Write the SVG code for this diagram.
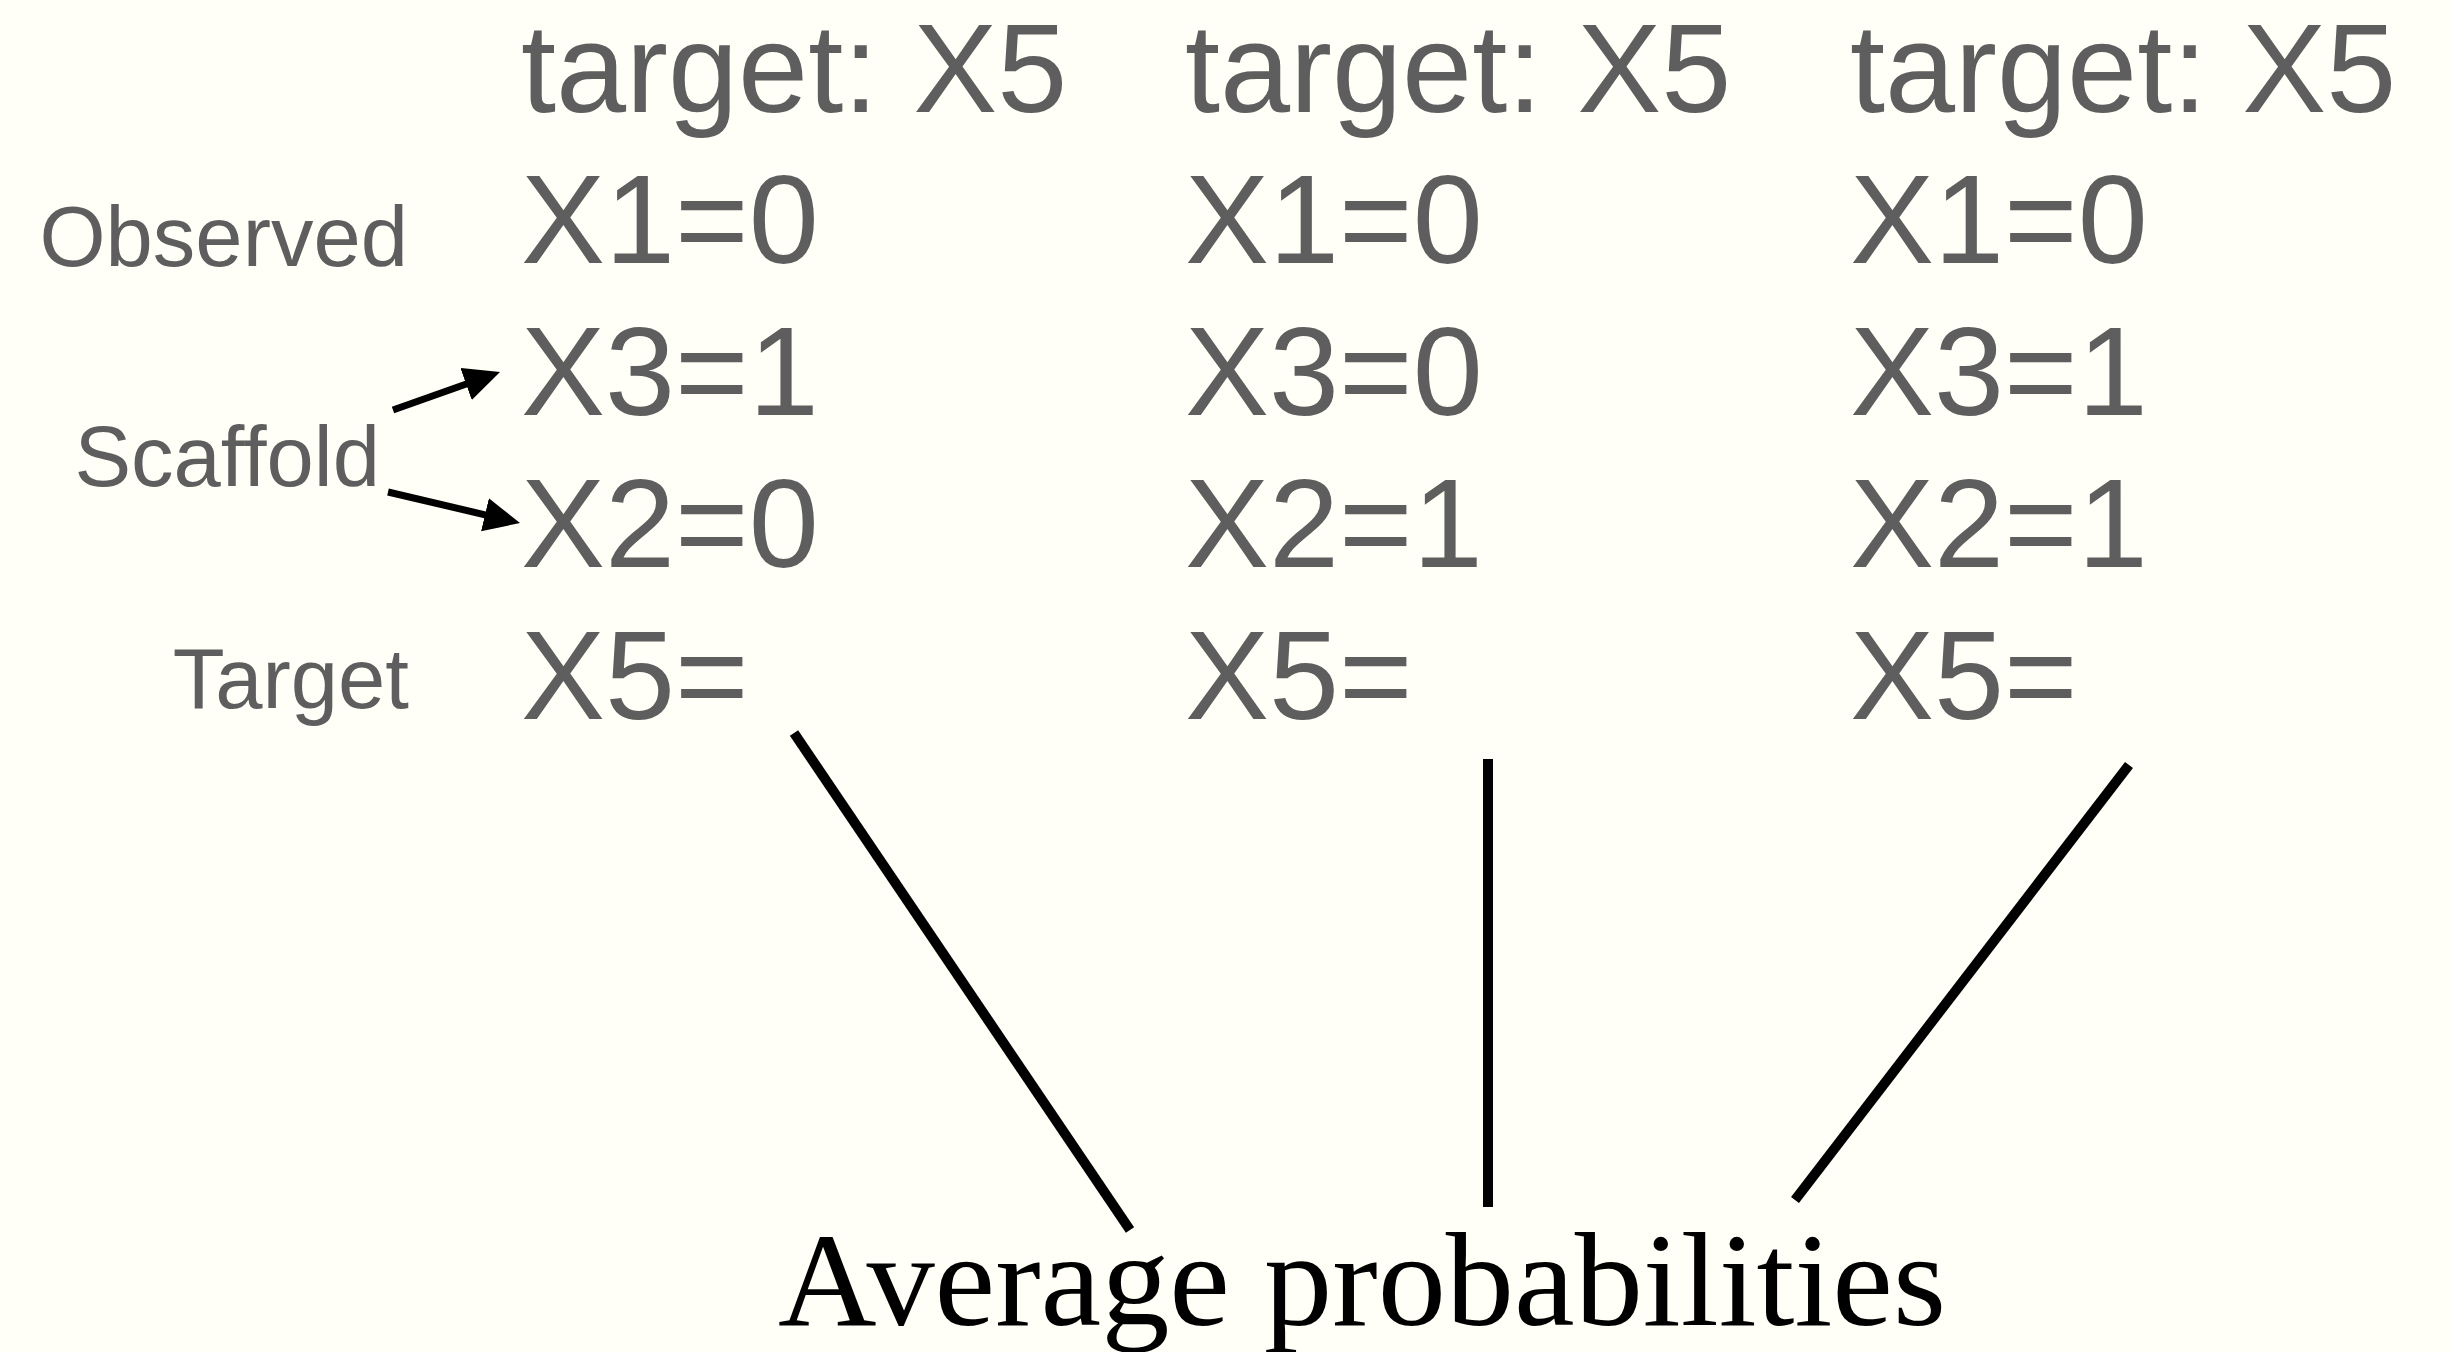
<svg xmlns="http://www.w3.org/2000/svg" width="2449" height="1352" viewBox="0 0 2449 1352">
<style>
.v{font-family:"Liberation Sans",Arial,Helvetica,sans-serif;font-size:126px;fill:#5e5e5e}
.lab{font-family:"Liberation Sans",Arial,Helvetica,sans-serif;font-size:85px;fill:#5e5e5e;text-anchor:end}
.avg{font-family:"Liberation Serif","Times New Roman",serif;font-size:134px;fill:#000}
.ln{stroke:#000;stroke-width:10;fill:none}
.ar{stroke:#000;stroke-width:7;fill:none;marker-end:url(#ah)}
</style>
<defs>
<marker id="ah" markerUnits="userSpaceOnUse" markerWidth="40" markerHeight="36" refX="10" refY="17" orient="auto">
<path d="M0,0 L36,17 L0,34 z" fill="#000"/>
</marker>
</defs>
<rect width="2449" height="1352" fill="#fffff8"/>
<g id="labels">
<text class="lab" x="408" y="266">Observed</text>
<text class="lab" x="380" y="486">Scaffold</text>
<text class="lab" x="409" y="708">Target</text>
</g>
<g id="col1">
<text class="v" x="521" y="112">target: X5</text>
<text class="v" x="521" y="263">X1=0</text>
<text class="v" x="521" y="415">X3=1</text>
<text class="v" x="521" y="567">X2=0</text>
<text class="v" x="521" y="719">X5=</text>
</g>
<g id="col2">
<text class="v" x="1185" y="112">target: X5</text>
<text class="v" x="1185" y="263">X1=0</text>
<text class="v" x="1185" y="415">X3=0</text>
<text class="v" x="1185" y="567">X2=1</text>
<text class="v" x="1185" y="719">X5=</text>
</g>
<g id="col3">
<text class="v" x="1850" y="112">target: X5</text>
<text class="v" x="1850" y="263">X1=0</text>
<text class="v" x="1850" y="415">X3=1</text>
<text class="v" x="1850" y="567">X2=1</text>
<text class="v" x="1850" y="719">X5=</text>
</g>
<g id="average">
<text class="avg" x="778" y="1325" textLength="1168" lengthAdjust="spacingAndGlyphs">Average probabilities</text>
</g>
<g id="connectors">
<line class="ar" x1="393" y1="410" x2="475.5" y2="380.7"/>
<line class="ar" x1="388" y1="492" x2="494.7" y2="517.1"/>
<line class="ln" x1="794" y1="733" x2="1130" y2="1230"/>
<line class="ln" x1="1488" y1="759" x2="1488" y2="1207"/>
<line class="ln" x1="2129" y1="765" x2="1795" y2="1200"/>
</g>
</svg>
